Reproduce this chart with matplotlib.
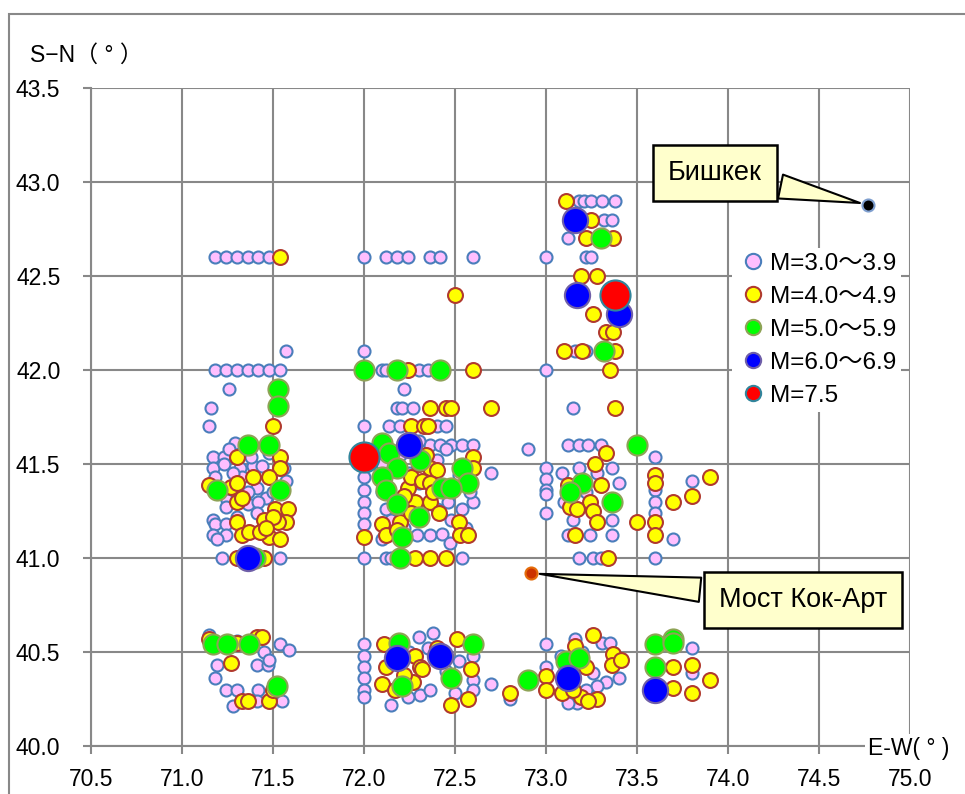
import matplotlib
matplotlib.use("Agg")
import matplotlib.pyplot as plt
from matplotlib.lines import Line2D
from matplotlib.patches import Rectangle
import numpy as np

# ---- data (lon E, lat N) --------------------------------------------------------
m3_lon = [71.18, 71.24, 71.30, 71.36, 71.42, 71.48,
          72.00, 72.12, 72.18, 72.24, 72.36, 72.42, 72.60, 73.00,
          71.18, 71.24, 71.30, 71.36, 71.42, 71.48, 71.54, 71.57, 72.00,
          72.10, 72.12, 72.30, 72.35, 73.00,
          71.26, 71.16, 71.15, 72.22, 72.00,
          72.18, 72.21, 72.27, 72.14, 72.20, 72.40, 72.45,
          72.36, 72.42, 72.48, 72.54, 72.60, 72.90,
          72.70, 72.60, 72.00, 72.00, 72.00, 72.00, 72.00, 72.00, 72.12, 72.15, 72.54,
          72.12, 72.10, 72.29, 72.36, 72.43, 72.47, 72.54, 72.32, 72.40, 72.50, 72.45,
          72.10, 72.20, 72.30, 72.25, 72.40, 72.52, 72.58, 72.15, 72.22, 72.48, 72.56,
          72.10, 72.30, 72.46,
          73.18, 73.21, 73.25, 73.31, 73.38, 73.32, 73.36, 73.12, 73.22, 73.25,
          73.16, 73.22, 73.15, 73.12, 73.18, 73.23, 73.30, 73.60,
          73.00, 73.00, 73.00, 73.00, 73.00, 73.09, 73.18, 73.36, 73.40, 73.36,
          73.12, 73.24, 73.36, 73.18, 73.26, 73.30, 73.60, 73.60, 73.60, 73.60,
          73.80, 73.70, 73.15, 73.22, 73.28, 73.10,
          71.17, 71.23, 71.29, 71.17, 71.23, 71.32, 71.39, 71.44, 71.18, 71.33,
          71.41, 71.36, 71.46, 71.25, 71.24, 71.36, 71.42, 71.41, 71.17, 71.18,
          71.24, 71.17, 71.24, 71.19, 71.57, 71.56, 71.22, 71.54, 71.26, 71.20,
          71.30, 71.38, 71.48, 71.50, 71.28,
          71.15, 71.54, 71.59, 71.19, 71.18, 71.41, 71.47, 71.24, 71.30, 71.42,
          71.28, 71.55, 71.41, 71.20, 71.30, 71.45, 71.48,
          72.00, 72.00, 72.00, 72.00, 72.00, 72.00, 72.15, 72.31, 72.38, 72.60,
          72.60, 72.60, 72.70, 72.36, 72.80, 73.00, 73.00, 73.16, 73.31, 73.35,
          73.26, 73.33, 73.40, 73.17, 73.28, 73.12, 73.80, 73.80, 72.25, 72.45,
          72.52, 72.30, 72.35, 72.24, 72.50, 73.20, 73.08, 73.22]
m3_lat = [42.60, 42.60, 42.60, 42.60, 42.60, 42.60,
          42.60, 42.60, 42.60, 42.60, 42.60, 42.60, 42.60, 42.60,
          42.00, 42.00, 42.00, 42.00, 42.00, 42.00, 42.00, 42.10, 42.10,
          42.00, 42.00, 42.00, 42.00, 42.00,
          41.90, 41.80, 41.70, 41.90, 41.70,
          41.80, 41.80, 41.80, 41.70, 41.70, 41.70, 41.70,
          41.60, 41.60, 41.60, 41.60, 41.60, 41.58,
          41.45, 41.30, 41.43, 41.36, 41.30, 41.24, 41.18, 41.00, 41.00, 41.00, 41.00,
          41.26, 41.10, 41.12, 41.12, 41.13, 41.08, 41.26, 41.26, 41.26, 41.38, 41.58,
          41.50, 41.55, 41.62, 41.45, 41.52, 41.44, 41.35, 41.20, 41.16, 41.20, 41.16,
          41.35, 41.40, 41.30,
          42.90, 42.90, 42.90, 42.90, 42.90, 42.80, 42.80, 42.70, 42.60, 42.60,
          42.10, 42.10, 41.80, 41.60, 41.60, 41.60, 41.60, 41.54,
          41.48, 41.42, 41.36, 41.34, 41.24, 41.45, 41.48, 41.48, 41.40, 41.20,
          41.12, 41.12, 41.12, 41.00, 41.00, 41.00, 41.36, 41.30, 41.24, 41.00,
          41.41, 41.10, 41.20, 41.35, 41.45, 41.30,
          41.54, 41.54, 41.61, 41.48, 41.50, 41.48, 41.49, 41.49, 41.43, 41.43,
          41.37, 41.35, 41.32, 41.31, 41.27, 41.29, 41.30, 41.24, 41.20, 41.18,
          41.18, 41.12, 41.12, 41.10, 41.41, 41.48, 41.00, 41.00, 41.58, 41.38,
          41.22, 41.54, 41.56, 41.35, 41.45,
          40.59, 40.54, 40.51, 40.43, 40.36, 40.43, 40.43, 40.30, 40.30, 40.30,
          40.21, 40.24, 40.24, 40.55, 40.56, 40.50, 40.46,
          40.54, 40.48, 40.42, 40.36, 40.30, 40.26, 40.22, 40.27, 40.60, 40.48,
          40.35, 40.30, 40.33, 40.30, 40.25, 40.54, 40.42, 40.57, 40.55, 40.55,
          40.39, 40.34, 40.36, 40.23, 40.32, 40.23, 40.52, 40.39, 40.50, 40.40,
          40.45, 40.58, 40.52, 40.26, 40.28, 40.50, 40.48, 40.30]

m4_lon = [71.54, 72.24, 72.60, 72.50, 71.50, 71.30, 71.54, 71.54, 71.15, 71.27,
          71.30, 71.39, 71.48, 71.30, 71.33, 71.51, 71.58, 71.45, 71.57, 71.53,
          71.30, 71.33, 71.37, 71.48, 71.54, 71.43, 71.30, 71.45, 71.50, 71.46,
          72.00, 72.36, 72.45, 72.48, 72.70, 72.26, 72.33, 72.35, 72.60, 72.60,
          72.36, 72.40, 72.24, 72.28, 72.36, 72.10, 72.20, 72.41, 72.52, 72.53,
          72.57, 72.12, 72.28, 72.36, 72.45, 72.26, 72.32, 72.36, 72.30, 72.34,
          72.22, 72.26, 72.18, 72.38,
          73.11, 73.25, 73.22, 73.37, 73.19, 73.28, 73.26, 73.33, 73.37, 73.10,
          73.20, 73.38, 73.35, 73.38, 73.33, 73.27, 73.12, 73.30, 73.24, 73.13,
          73.17, 73.26, 73.28, 73.16, 73.34, 73.60, 73.60, 73.60, 73.60, 73.50,
          73.70, 73.80, 73.90,
          71.15, 71.41, 71.44, 71.27, 71.33, 71.36, 71.48, 71.30, 71.50,
          72.11, 72.12, 72.10, 72.17, 72.28, 72.31, 72.27, 72.51, 72.59, 72.57,
          72.48, 72.32, 72.40, 72.22, 72.80, 73.00, 73.00, 73.26, 73.19, 73.28,
          73.23, 73.37, 73.36, 73.41, 73.16, 73.22, 73.09, 73.70, 73.70, 73.80,
          73.80, 73.90, 73.15]
m4_lat = [42.60, 42.00, 42.00, 42.40, 41.70, 41.54, 41.54, 41.48, 41.39, 41.38,
          41.40, 41.43, 41.43, 41.30, 41.32, 41.26, 41.26, 41.20, 41.19, 41.19,
          41.19, 41.12, 41.14, 41.11, 41.10, 41.14, 41.00, 41.00, 41.22, 41.16,
          41.11, 41.80, 41.80, 41.80, 41.80, 41.70, 41.70, 41.70, 41.54, 41.48,
          41.48, 41.47, 41.37, 41.30, 41.30, 41.18, 41.19, 41.24, 41.19, 41.12,
          41.12, 41.12, 41.00, 41.00, 41.00, 41.43, 41.41, 41.40, 41.50, 41.55,
          41.33, 41.24, 41.15, 41.35,
          42.90, 42.80, 42.70, 42.70, 42.50, 42.50, 42.30, 42.20, 42.20, 42.10,
          42.10, 42.10, 42.00, 41.80, 41.56, 41.50, 41.39, 41.39, 41.30, 41.27,
          41.26, 41.25, 41.19, 41.12, 41.00, 41.44, 41.40, 41.19, 41.12, 41.19,
          41.30, 41.33, 41.43,
          40.57, 40.58, 40.58, 40.44, 40.24, 40.24, 40.24, 40.55, 40.30,
          40.54, 40.42, 40.33, 40.30, 40.48, 40.42, 40.34, 40.57, 40.41, 40.25,
          40.22, 40.41, 40.52, 40.38, 40.28, 40.37, 40.30, 40.59, 40.26, 40.25,
          40.24, 40.49, 40.43, 40.46, 40.53, 40.42, 40.28, 40.42, 40.31, 40.43,
          40.28, 40.35, 40.30]

m5_lon = [72.00, 72.18, 72.42, 71.53, 71.53, 71.36, 71.48, 71.19, 71.54, 71.40,
          72.10, 72.14, 72.31, 72.18, 72.10, 72.12, 72.18, 72.30, 72.21, 72.20,
          72.54, 72.57, 72.43, 72.48,
          73.30, 73.32, 73.50, 73.20, 73.13, 73.36,
          71.17, 71.25, 71.37, 71.52, 72.19, 72.21, 72.48, 72.60, 72.90, 73.11,
          73.18, 73.60, 73.60, 73.70, 73.70]
m5_lat = [42.00, 42.00, 42.00, 41.90, 41.81, 41.60, 41.60, 41.36, 41.36, 41.00,
          41.61, 41.56, 41.52, 41.48, 41.43, 41.36, 41.29, 41.22, 41.11, 41.00,
          41.48, 41.40, 41.37, 41.37,
          42.70, 42.10, 41.60, 41.40, 41.35, 41.30,
          40.54, 40.54, 40.54, 40.32, 40.55, 40.32, 40.36, 40.54, 40.35, 40.45,
          40.47, 40.54, 40.42, 40.57, 40.55]

m6_lon = [71.36, 72.25, 73.16, 73.17, 73.40, 72.18, 72.42, 73.12, 73.60]
m6_lat = [41.00, 41.60, 42.80, 42.40, 42.30, 40.47, 40.48, 40.36, 40.30]

m75_lon = [72.00, 73.38]
m75_lat = [41.54, 42.40]

bishkek = (74.77, 42.88)
kokart = (72.92, 40.92)

labels = ["M=3.0～3.9", "M=4.0～4.9", "M=5.0～5.9", "M=6.0～6.9", "M=7.5"]

# ---- style --------------------------------------------------------------------
FONT = ["Liberation Sans", "Noto Sans CJK JP", "DejaVu Sans"]
plt.rcParams["font.family"] = FONT
GRID = "#888888"

# (face, edge, scatter size)
STYLES = [("#FFBFFF", "#4A7EBB", 75),
          ("#FFFF00", "#B03A2E", 115),
          ("#00FF00", "#8EA356", 210),
          ("#0000FF", "#6F5FA8", 330),
          ("#FF0000", "#31859C", 470)]

fig = plt.figure(figsize=(9.65, 7.94), dpi=100)
ax = fig.add_axes([0.0943, 0.0605, 0.8487, 0.8285])

series = [(m3_lon, m3_lat), (m4_lon, m4_lat), (m5_lon, m5_lat),
          (m6_lon, m6_lat), (m75_lon, m75_lat)]
for (lon, lat), (fc, ec, s) in zip(series, STYLES):
    ax.scatter(lon, lat, s=s, c=fc, edgecolors=ec, linewidths=1.5, zorder=3)

ax.scatter([bishkek[0]], [bishkek[1]], s=75, c="black", edgecolors="#7F9FCF",
           linewidths=1.5, zorder=3)
ax.scatter([kokart[0]], [kokart[1]], s=75, c="#CC3300", edgecolors="#E46C0A",
           linewidths=1.5, zorder=3)

ax.set_xlim(70.5, 75.0)
ax.set_ylim(40.0, 43.5)
ax.set_xticks(np.arange(70.5, 75.01, 0.5))
ax.set_yticks(np.arange(40.0, 43.51, 0.5))
ax.set_xticklabels([f"{v:.1f}" for v in np.arange(70.5, 75.01, 0.5)])
ax.set_yticklabels([f"{v:.1f}" for v in np.arange(40.0, 43.51, 0.5)])
ax.grid(True, color=GRID, lw=1.5, zorder=0)
ax.tick_params(direction="out", length=6, width=1.5, color=GRID,
               labelsize=16.5, labelcolor="black")
ax.tick_params(axis="y", pad=16)
ax.tick_params(axis="x", pad=10)
for side in ("top", "right"):
    ax.spines[side].set_visible(False)
for side in ("left", "bottom"):
    ax.spines[side].set_color(GRID)
    ax.spines[side].set_linewidth(1.5)

handles = [Line2D([], [], marker="o", ls="", ms=11, mfc=fc, mec=ec, mew=1.5)
           for fc, ec, _ in STYLES]
leg = ax.legend(handles, labels, loc="upper left", bbox_to_anchor=(0.783, 0.757),
                fontsize=17.5, frameon=True, framealpha=1.0, edgecolor="none",
                fancybox=False, borderpad=0.2, handletextpad=0.05,
                labelspacing=0.45, handlelength=1.3, borderaxespad=0)
leg.set_zorder(5)

box = dict(boxstyle="square,pad=0.55", fc="#FFFFCC", ec="black", lw=1.8)
wedge = dict(arrowstyle="wedge,tail_width=0.9,shrink_factor=0.5",
             fc="#FFFFCC", ec="black", lw=1.5)
ax.annotate("Бишкек", xy=bishkek, xytext=(0.762, 0.871), textcoords="axes fraction",
            fontsize=19.5, ha="center", va="center", bbox=box,
            arrowprops=dict(wedge, shrinkB=6), zorder=6)
ax.annotate("Мост Кок-Арт", xy=kokart, xytext=(0.869, 0.222), textcoords="axes fraction",
            fontsize=19.5, ha="center", va="center", bbox=box,
            arrowprops=dict(wedge, shrinkB=6), zorder=6)

fig.text(30 / 965, 1 - 55 / 794, "S−N（ ° ）", fontsize=16.5, va="center", ha="left")
fig.text(868 / 965, 1 - 748 / 794, "E-W( ° )", fontsize=16.5, va="center", ha="left",
         bbox=dict(fc="white", ec="none", pad=2), zorder=10)

# outer chart-area frame
fig.patches.append(Rectangle((9 / 965, -0.1), 1.2, 1.1 - 14 / 794, transform=fig.transFigure,
                             fill=False, ec=GRID, lw=1.5))

fig.savefig("out.png", dpi=100)
